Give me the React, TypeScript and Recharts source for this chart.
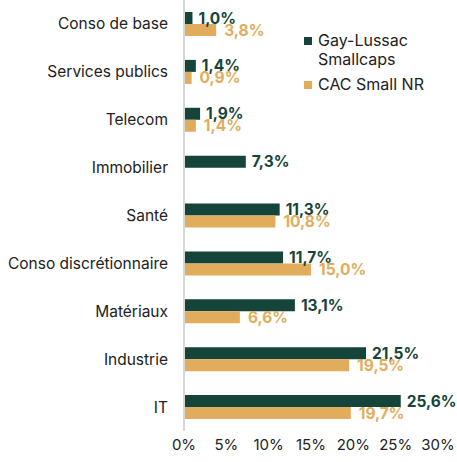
import { BarChart, Bar, XAxis, YAxis, LabelList } from "recharts";

const categories = [
  "Conso de base",
  "Services publics",
  "Telecom",
  "Immobilier",
  "Santé",
  "Conso discrétionnaire",
  "Matériaux",
  "Industrie",
  "IT",
];
const gayLussac = [1.0, 1.4, 1.9, 7.3, 11.3, 11.7, 13.1, 21.5, 25.6];
const cacSmall = [3.8, 0.9, 1.4, null, 10.8, 15.0, 6.6, 19.5, 19.7];
const xTicks = [0, 5, 10, 15, 20, 25, 30];

const GREEN = "#15453a";
const GOLD = "#e1ad5c";
const FONT = "Inter, 'Noto Sans', sans-serif";

const data = categories.map((name, i) => ({
  name,
  gl: gayLussac[i],
  cac: cacSmall[i],
}));

const fmt = (v: any) =>
  v == null ? "" : `${Number(v).toFixed(1).replace(".", ",")}%`;

function Legend() {
  const item = (color: string, lines: string[]) => (
    <div style={{ display: "flex", alignItems: "flex-start", marginBottom: 6 }}>
      <div
        style={{
          width: 8,
          height: 8,
          background: color,
          marginTop: 6,
          marginRight: 6,
          flexShrink: 0,
        }}
      />
      <div style={{ lineHeight: "19px" }}>
        {lines.map((l) => (
          <div key={l}>{l}</div>
        ))}
      </div>
    </div>
  );
  return (
    <div
      style={{
        position: "absolute",
        left: 304,
        top: 31,
        fontFamily: FONT,
        fontSize: 16,
        color: "#222",
      }}
    >
      {item(GREEN, ["Gay-Lussac", "Smallcaps"])}
      {item(GOLD, ["CAC Small NR"])}
    </div>
  );
}

export default function App() {
  return (
    <div style={{ position: "absolute", left: 0, top: 0, width: 457, height: 462, background: "#fff" }}>
      <BarChart
        width={457}
        height={462}
        data={data}
        layout="vertical"
        margin={{ top: 0, right: 19, bottom: 1, left: 0 }}
        barGap={0}
        barCategoryGap={0}
      >
        <XAxis
          type="number"
          domain={[0, 30]}
          ticks={xTicks}
          tickFormatter={(v) => `${v}%`}
          axisLine={false}
          tickLine={false}
          height={30}
          tick={{ fill: "#222", fontSize: 15, fontFamily: FONT }}
          interval={0}
        />
        <YAxis
          type="category"
          dataKey="name"
          width={184}
          tickLine={false}
          axisLine={{ stroke: "#d6d6d6", strokeWidth: 2 }}
          tickMargin={10}
          tick={{ fill: "#222", fontSize: 15.5, fontFamily: FONT }}
          interval={0}
        />
        <Bar dataKey="gl" fill={GREEN} barSize={12} isAnimationActive={false}>
          <LabelList
            dataKey="gl"
            position="right"
            offset={6}
            formatter={fmt}
            style={{ fill: GREEN, fontSize: 15.5, fontWeight: 700, fontFamily: FONT }}
          />
        </Bar>
        <Bar dataKey="cac" fill={GOLD} barSize={12} isAnimationActive={false}>
          <LabelList
            dataKey="cac"
            position="right"
            offset={8}
            formatter={fmt}
            style={{ fill: GOLD, fontSize: 15.5, fontWeight: 700, fontFamily: FONT }}
          />
        </Bar>
      </BarChart>
      <Legend />
    </div>
  );
}
